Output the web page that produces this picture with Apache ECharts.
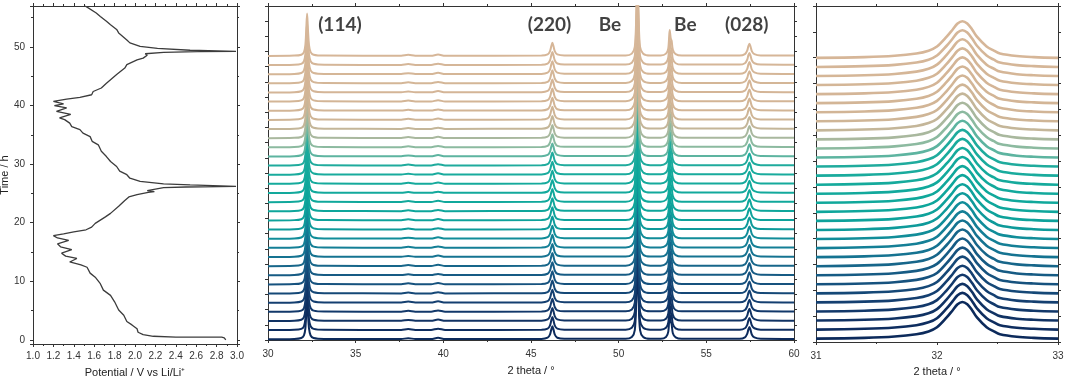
<!DOCTYPE html>
<html>
<head>
<meta charset="utf-8">
<script src="https://cdn.jsdelivr.net/npm/echarts@6/dist/echarts.min.js"></script>
<style>
  html, body { margin: 0; background: #fff; }
  #chart { width: 1065px; height: 379px; }
</style>
</head>
<body>
<div id="chart"></div>
<script>
// galvanostatic curve (left panel)
const timeH = [0.0, 0.35, 0.46, 0.48, 0.62, 0.9, 1.3, 1.9, 2.56, 3.13, 4.2, 5.1, 6.5, 7.6, 8.5, 9.6, 10.7, 11.4, 12.4, 12.8,
  13.3, 13.9, 14.3, 14.8, 15.4, 15.9, 16.4, 17.0, 17.4, 17.8, 18.1, 18.45, 18.8, 19.25, 19.9, 21.0, 21.6, 22.8, 23.8, 24.4,
  24.8, 25.2, 25.3, 25.5, 25.8, 26.0, 26.1, 26.2, 26.45, 26.65, 27.05, 27.6, 28.2, 28.8, 29.6, 30.45, 31.3, 32.2, 33.3, 33.9,
  34.7, 35.3, 35.9, 36.4, 37.0, 37.6, 37.9, 38.5, 39.0, 39.6, 40.0, 40.3, 40.7, 41.1, 41.4, 41.85, 42.4, 43.0, 43.8, 45.3,
  46.4, 47.0, 47.8, 48.1, 48.6, 48.85, 49.07, 49.2, 49.24, 49.45, 49.75, 50.1, 50.7, 51.2, 52.4, 53.0, 53.8, 54.4, 55.2, 55.8,
  56.8, 57.0];
const potentialV = [2.89, 2.875, 2.85, 2.40, 2.18, 2.08, 2.03, 2.02, 1.97, 1.92, 1.89, 1.84, 1.80, 1.76, 1.69, 1.66, 1.61, 1.56, 1.53, 1.47,
  1.36, 1.43, 1.32, 1.28, 1.38, 1.27, 1.24, 1.35, 1.24, 1.20, 1.30, 1.40, 1.52, 1.575, 1.61, 1.71, 1.76, 1.84, 1.90, 1.94,
  2.02, 2.13, 2.19, 2.12, 2.13, 2.28, 2.5, 2.99, 2.54, 2.28, 2.05, 1.95, 1.92, 1.85, 1.82, 1.76, 1.72, 1.67, 1.64, 1.58,
  1.56, 1.49, 1.46, 1.38, 1.36, 1.31, 1.26, 1.37, 1.23, 1.33, 1.21, 1.30, 1.20, 1.33, 1.46, 1.575, 1.59, 1.67, 1.72, 1.82,
  1.90, 1.92, 2.02, 2.08, 2.12, 2.10, 2.28, 2.61, 2.99, 2.54, 2.22, 2.05, 1.95, 1.92, 1.84, 1.82, 1.76, 1.72, 1.66, 1.62,
  1.53, 1.51];

// one diffraction pattern (middle panel), 2 theta and intensity
const xrdTheta = [30.0, 31.5, 31.9, 32.05, 32.13, 32.18, 32.23, 32.28, 32.34, 32.43, 32.6, 33.2,
  37.6, 38.0, 38.4, 39.3, 39.7, 40.1,
  45.6, 45.95, 46.08, 46.16, 46.22, 46.28, 46.36, 46.5, 46.9,
  50.4, 50.75, 50.92, 51.0, 51.07, 51.14, 51.22, 51.4, 51.8,
  52.4, 52.7, 52.83, 52.91, 52.97, 53.02, 53.09, 53.25, 53.6,
  56.9, 57.2, 57.33, 57.4, 57.46, 57.52, 57.6, 57.74, 58.1, 60.0];
const xrdIntensity = [0.0, 0.02, 0.08, 0.25, 0.7, 1.7, 2.8, 1.7, 0.7, 0.25, 0.08, 0.02,
  0.01, 0.07, 0.01, 0.01, 0.09, 0.01,
  0.02, 0.1, 0.3, 0.65, 0.86, 0.65, 0.3, 0.1, 0.03,
  0.03, 0.15, 0.6, 2.5, 5.5, 2.5, 0.6, 0.15, 0.03,
  0.03, 0.15, 0.5, 1.7, 1.15, 1.0, 0.4, 0.12, 0.03,
  0.03, 0.12, 0.35, 0.65, 0.8, 0.62, 0.3, 0.12, 0.03, 0.02];

// (114) reflection zoom (right panel)
const zoomTheta = [31.0, 31.4, 31.65, 31.83, 31.93, 32.0, 32.08, 32.13, 32.17, 32.21, 32.25, 32.29, 32.33, 32.41, 32.47, 32.52, 32.66, 32.8, 33.0];
const zoomIntensity = [0.0, 0.03, 0.08, 0.17, 0.28, 0.44, 0.82, 1.1, 1.33, 1.42, 1.33, 1.1, 0.82, 0.44, 0.28, 0.17, 0.07, 0.03, 0.0];

const scanCount = 32;
const peakNames = ['(114)', '(220)', 'Be', 'Be', '(028)'];
const peakNameTheta = [34.1, 46.06, 49.5, 53.8, 57.3];

// scan colours, bottom (first) to top (last)
const scanColors = ['#0c2a5b', '#0e2d5f', '#103263', '#12386a', '#143f70', '#154877', '#16527e', '#165b84',
  '#17668a', '#157391', '#147f96', '#118d99', '#0e9a9a', '#0ea29b', '#0ea69b', '#10a89b',
  '#12a99c', '#15aa9c', '#19ab9d', '#1fab9d', '#5db4a0', '#8cbaa0', '#a9b89e', '#c4b699',
  '#cfb596', '#d2b596', '#d3b596', '#d4b597', '#d4b697', '#d5b697', '#d5b698', '#d6b698'];

const midBase = 0.05, midStep = 0.602;
const zoomBase = 0.13, zoomStep = 0.3504;

const ink = '#333';
const tickFont = 'Liberation Sans';

function frameAxes(grid, dir, cfg) {
  // a labelled axis plus a mirrored one with ticks only
  const common = {
    gridIndex: grid, type: 'value', min: cfg.min, max: cfg.max,
    axisLine: { show: true, onZero: false, lineStyle: { color: ink, width: 1 } },
    axisTick: { show: true, inside: false, length: 3, lineStyle: { color: ink } },
    minorTick: { show: !!cfg.minor, splitNumber: cfg.minor || 2, length: 2, lineStyle: { color: ink } },
    splitLine: { show: false }
  };
  if (cfg.interval) common.interval = cfg.interval;
  if (cfg.splitNumber) common.splitNumber = cfg.splitNumber;
  const main = Object.assign({}, common, {
    position: dir === 'x' ? 'bottom' : 'left',
    axisLabel: Object.assign({ show: !!cfg.labels, fontSize: 10, color: ink, fontFamily: tickFont, margin: cfg.margin || 8 }, cfg.labelExtra || {}),
    name: cfg.name || '', nameLocation: 'middle', nameGap: cfg.nameGap || 20,
    nameTextStyle: { fontSize: 11, color: '#222', fontFamily: tickFont }
  });
  const mirror = Object.assign({}, common, {
    position: dir === 'x' ? 'top' : 'right',
    axisLabel: { show: false }
  });
  return [main, mirror];
}

const xAxis = [].concat(
  frameAxes(0, 'x', { min: 1, max: 3, interval: 0.2, minor: 2, labels: true, margin: 7,
    labelExtra: { formatter: v => v.toFixed(1) }, name: 'Potential / V vs Li/Li\u207A', nameGap: 23 }),
  frameAxes(1, 'x', { min: 30, max: 60, interval: 5, minor: 2, labels: true, margin: 9, name: '2 theta / \u00B0', nameGap: 25 }),
  frameAxes(2, 'x', { min: 31, max: 33, interval: 1, minor: 2, labels: true, margin: 9, name: '2 theta / \u00B0', nameGap: 24 })
);
const yAxis = [].concat(
  frameAxes(0, 'y', { min: -0.7, max: 57, splitNumber: 6, minor: 2, labels: true, margin: 8,
    labelExtra: { formatter: v => (Math.abs(v % 10) < 1e-6 ? String(v) : '') }, name: 'Time / h', nameGap: 19 }),
  frameAxes(1, 'y', { min: 0, max: 22, interval: 1 }),
  frameAxes(2, 'y', { min: 0, max: 13, interval: 1 })
);

const series = [{
  type: 'line', xAxisIndex: 0, yAxisIndex: 0, showSymbol: false, animation: false,
  lineStyle: { color: '#3c3c3c', width: 1.3 },
  data: timeH.map((t, i) => [potentialV[i], t])
}];

for (let i = 0; i < scanCount; i++) {
  series.push({
    type: 'line', xAxisIndex: 2, yAxisIndex: 2, showSymbol: false, animation: false,
    smooth: 0.3, lineStyle: { color: scanColors[i], width: 2 },
    data: xrdTheta.map((x, k) => [x, xrdIntensity[k] + midBase + i * midStep])
  });
  series.push({
    type: 'line', xAxisIndex: 4, yAxisIndex: 4, showSymbol: false, animation: false,
    smooth: 0.35, lineStyle: { color: scanColors[i], width: 2.6 },
    data: zoomTheta.map((x, k) => [x, zoomIntensity[k] + zoomBase + i * zoomStep])
  });
}

series.push({
  type: 'scatter', xAxisIndex: 2, yAxisIndex: 2, symbolSize: 0, animation: false, z: 10,
  label: { show: true, position: 'inside', formatter: p => p.data[2],
    fontFamily: 'Lato', fontWeight: 'bold', fontSize: 19, color: '#111' },
  data: peakNames.map((n, i) => [peakNameTheta[i], 20.75, n])
});

const chart = echarts.init(document.getElementById('chart'), null, { renderer: 'canvas' });
chart.setOption({
  animation: false,
  backgroundColor: '#fff',
  grid: [
    { left: 33, top: 6, width: 204, height: 338, outerBoundsMode: 'none' },
    { left: 268, top: 6, width: 526, height: 334, outerBoundsMode: 'none' },
    { left: 816, top: 6, width: 242, height: 336, outerBoundsMode: 'none' }
  ],
  xAxis: xAxis,
  yAxis: yAxis,
  series: series
});
</script>
</body>
</html>
